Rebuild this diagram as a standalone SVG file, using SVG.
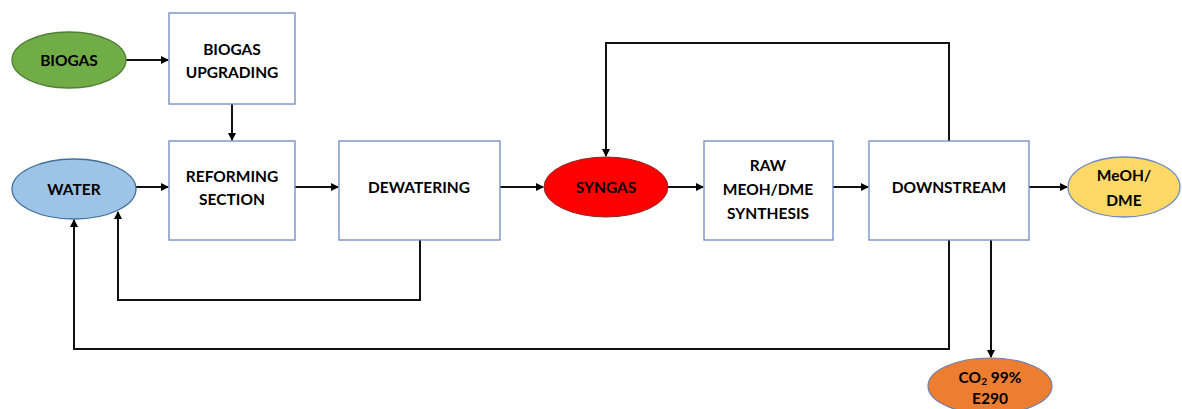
<svg xmlns="http://www.w3.org/2000/svg" width="1182" height="409" viewBox="0 0 1182 409">
<defs>
<marker id="ah" markerWidth="8" markerHeight="8" refX="7" refY="4" orient="auto" markerUnits="userSpaceOnUse">
<path d="M0,0 L8,4 L0,8 Z" fill="#000"/>
</marker>
<style>
.box{fill:#fff;stroke:#6f89c0;stroke-width:1.3}
.t{font-family:Lato,"Liberation Sans",sans-serif;font-weight:bold;font-size:15.5px;fill:#000;text-anchor:middle;dominant-baseline:central}
.c{fill:none;stroke:#111;stroke-width:2}
.a{marker-end:url(#ah)}
</style>
</defs>
<rect width="1182" height="409" fill="#fff"/>
<g id="connectors">
<path class="c a" d="M126,60 H168"/>
<path class="c a" d="M232,104 V140"/>
<path class="c a" d="M136,187 H168"/>
<path class="c a" d="M295,187 H338"/>
<path class="c a" d="M500,187 H543"/>
<path class="c a" d="M668,187 H703"/>
<path class="c a" d="M833,187 H868"/>
<path class="c a" d="M1029,187 H1067"/>
<path class="c a" d="M991,240 V357"/>
<path class="c a" d="M949,141 V43 H606 V156"/>
<path class="c a" d="M420,240 V300 H118 V212"/>
<path class="c a" d="M949,240 V349 H74 V220"/>
</g>
<g id="biogas">
<ellipse cx="69" cy="60" rx="57" ry="28" fill="#70ad47" stroke="#507e32" stroke-width="1.3"/>
<text class="t" x="69" y="60">BIOGAS</text>
</g>
<g id="biogas-upgrading">
<rect class="box" x="169" y="13" width="126" height="91"/>
<text class="t" x="232" y="49">BIOGAS</text>
<text class="t" x="232" y="72">UPGRADING</text>
</g>
<g id="water">
<ellipse cx="74" cy="189" rx="62" ry="30" fill="#9dc3e6" stroke="#41719c" stroke-width="1.3"/>
<text class="t" x="74" y="189">WATER</text>
</g>
<g id="reforming">
<rect class="box" x="169" y="141" width="126" height="99"/>
<text class="t" x="232" y="176">REFORMING</text>
<text class="t" x="232" y="199">SECTION</text>
</g>
<g id="dewatering">
<rect class="box" x="339" y="141" width="161" height="99"/>
<text class="t" x="419" y="187">DEWATERING</text>
</g>
<g id="syngas">
<ellipse cx="606" cy="187" rx="62" ry="30" fill="#ff0000" stroke="#8b2a2a" stroke-width="1"/>
<text class="t" x="606" y="187">SYNGAS</text>
</g>
<g id="raw-synthesis">
<rect class="box" x="704" y="141" width="129" height="99"/>
<text class="t" x="768" y="165">RAW</text>
<text class="t" x="768" y="189">MEOH/DME</text>
<text class="t" x="768" y="213">SYNTHESIS</text>
</g>
<g id="downstream">
<rect class="box" x="869" y="141" width="160" height="99"/>
<text class="t" x="949" y="187">DOWNSTREAM</text>
</g>
<g id="meoh-dme">
<ellipse cx="1124" cy="187" rx="56" ry="30" fill="#ffd966" stroke="#6f89c0" stroke-width="1.3"/>
<text class="t" x="1124" y="175">MeOH/</text>
<text class="t" x="1124" y="200">DME</text>
</g>
<g id="co2">
<ellipse cx="990" cy="386" rx="62" ry="28" fill="#ed7d31" stroke="#6f7fa8" stroke-width="1.2"/>
<text class="t" x="990" y="377">CO<tspan font-size="10" dy="4">2</tspan><tspan dy="-4"> 99%</tspan></text>
<text class="t" x="990" y="398">E290</text>
</g>
</svg>
